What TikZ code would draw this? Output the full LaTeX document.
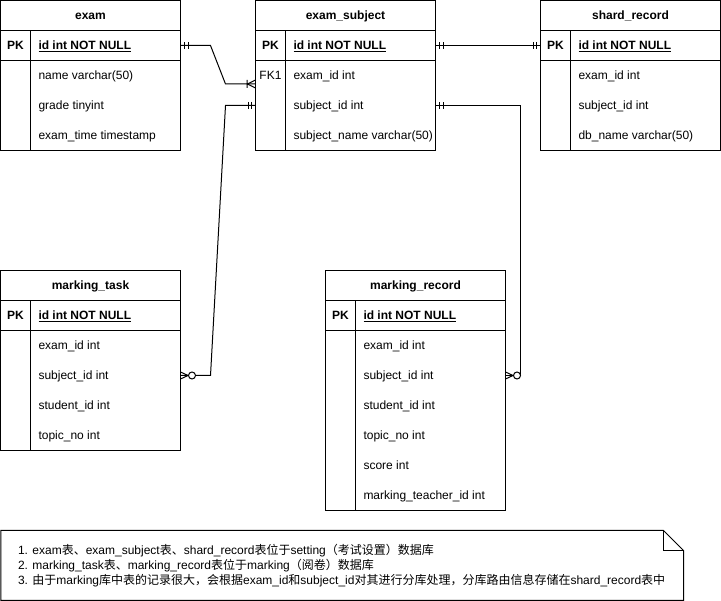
\documentclass[tikz,border=0pt]{standalone}
\usepackage{fontspec}
\setmainfont{Liberation Sans}
\newfontfamily\cjk{Noto Sans CJK SC}
\usetikzlibrary{positioning}
\usetikzlibrary{calc}

\begin{document}
\begin{tikzpicture}[
    x=1pt, y=1pt, line width=1pt, font=\fontsize{12}{14}\selectfont,
    head/.style={rectangle, draw=black, minimum width=180pt, minimum height=30pt, inner sep=0pt, outer sep=0pt, text height=8.5pt, text depth=0pt, font=\fontsize{12}{14}\selectfont\bfseries},
    key/.style={rectangle, minimum width=30pt, minimum height=30pt, inner sep=0pt, outer sep=0pt, text height=8.5pt, text depth=0pt},
    field/.style={rectangle, anchor=west, inner xsep=8pt, inner ysep=0pt, minimum height=30pt, outer sep=0pt, text height=8.5pt, text depth=0pt},
    memo/.style={rectangle, minimum width=682.5pt, minimum height=70pt, inner sep=0pt, outer sep=0pt},
    memotext/.style={align=left, inner sep=0pt, font=\fontsize{12}{15}\selectfont},
    one/.pic={\draw (4,-3.5) -- (4,3.5) (7.5,-3.5) -- (7.5,3.5);},
    onemany/.pic={\draw (0,4) -- (8,0) -- (0,-4) (8.5,-4) -- (8.5,4);},
    zeromany/.pic={\draw (0,3.5) -- (7.5,0) -- (0,-3.5); \draw[fill=white] (11.5,0) circle (3.5);}
]
    \useasboundingbox (-0.5,0.5) rectangle (720.5,-600.5);

    % exam
    \node[head] (E) at (90,-15) {exam};
    \node[key, anchor=north west] (E-k0) at (E.south west) {\textbf{PK}};
    \node[field] (E-f0) at (E-k0.east) {\textbf{\underline{id int NOT NULL}}};
    \node[key] (E-k1) [below=0pt of E-k0] {};
    \node[field] (E-f1) at (E-k1.east) {name varchar(50)};
    \node[key] (E-k2) [below=0pt of E-k1] {};
    \node[field] (E-f2) at (E-k2.east) {grade tinyint};
    \node[key] (E-k3) [below=0pt of E-k2] {};
    \node[field] (E-f3) at (E-k3.east) {exam\_time timestamp};
    \draw (E.south west) rectangle (E.east |- E-k3.south);
    \draw (E-k0.south west) -- (E.east |- E-k0.south);
    \draw (E-k0.north east) -- (E-k3.south east);

    % exam_subject
    \node[head] (ES) [right=75pt of E] {exam\_subject};
    \node[key, anchor=north west] (ES-k0) at (ES.south west) {\textbf{PK}};
    \node[field] (ES-f0) at (ES-k0.east) {\textbf{\underline{id int NOT NULL}}};
    \node[key] (ES-k1) [below=0pt of ES-k0] {FK1};
    \node[field] (ES-f1) at (ES-k1.east) {exam\_id int};
    \node[key] (ES-k2) [below=0pt of ES-k1] {};
    \node[field] (ES-f2) at (ES-k2.east) {subject\_id int};
    \node[key] (ES-k3) [below=0pt of ES-k2] {};
    \node[field] (ES-f3) at (ES-k3.east) {subject\_name varchar(50)};
    \draw (ES.south west) rectangle (ES.east |- ES-k3.south);
    \draw (ES-k0.south west) -- (ES.east |- ES-k0.south);
    \draw (ES-k0.north east) -- (ES-k3.south east);

    % shard_record
    \node[head] (SR) [right=105pt of ES] {shard\_record};
    \node[key, anchor=north west] (SR-k0) at (SR.south west) {\textbf{PK}};
    \node[field] (SR-f0) at (SR-k0.east) {\textbf{\underline{id int NOT NULL}}};
    \node[key] (SR-k1) [below=0pt of SR-k0] {};
    \node[field] (SR-f1) at (SR-k1.east) {exam\_id int};
    \node[key] (SR-k2) [below=0pt of SR-k1] {};
    \node[field] (SR-f2) at (SR-k2.east) {subject\_id int};
    \node[key] (SR-k3) [below=0pt of SR-k2] {};
    \node[field] (SR-f3) at (SR-k3.east) {db\_name varchar(50)};
    \draw (SR.south west) rectangle (SR.east |- SR-k3.south);
    \draw (SR-k0.south west) -- (SR.east |- SR-k0.south);
    \draw (SR-k0.north east) -- (SR-k3.south east);

    % marking_task
    \node[head] (MT) at (90,-285) {marking\_task};
    \node[key, anchor=north west] (MT-k0) at (MT.south west) {\textbf{PK}};
    \node[field] (MT-f0) at (MT-k0.east) {\textbf{\underline{id int NOT NULL}}};
    \node[key] (MT-k1) [below=0pt of MT-k0] {};
    \node[field] (MT-f1) at (MT-k1.east) {exam\_id int};
    \node[key] (MT-k2) [below=0pt of MT-k1] {};
    \node[field] (MT-f2) at (MT-k2.east) {subject\_id int};
    \node[key] (MT-k3) [below=0pt of MT-k2] {};
    \node[field] (MT-f3) at (MT-k3.east) {student\_id int};
    \node[key] (MT-k4) [below=0pt of MT-k3] {};
    \node[field] (MT-f4) at (MT-k4.east) {topic\_no int};
    \draw (MT.south west) rectangle (MT.east |- MT-k4.south);
    \draw (MT-k0.south west) -- (MT.east |- MT-k0.south);
    \draw (MT-k0.north east) -- (MT-k4.south east);

    % marking_record
    \node[head] (MR) [right=145pt of MT] {marking\_record};
    \node[key, anchor=north west] (MR-k0) at (MR.south west) {\textbf{PK}};
    \node[field] (MR-f0) at (MR-k0.east) {\textbf{\underline{id int NOT NULL}}};
    \node[key] (MR-k1) [below=0pt of MR-k0] {};
    \node[field] (MR-f1) at (MR-k1.east) {exam\_id int};
    \node[key] (MR-k2) [below=0pt of MR-k1] {};
    \node[field] (MR-f2) at (MR-k2.east) {subject\_id int};
    \node[key] (MR-k3) [below=0pt of MR-k2] {};
    \node[field] (MR-f3) at (MR-k3.east) {student\_id int};
    \node[key] (MR-k4) [below=0pt of MR-k3] {};
    \node[field] (MR-f4) at (MR-k4.east) {topic\_no int};
    \node[key] (MR-k5) [below=0pt of MR-k4] {};
    \node[field] (MR-f5) at (MR-k5.east) {score int};
    \node[key] (MR-k6) [below=0pt of MR-k5] {};
    \node[field] (MR-f6) at (MR-k6.east) {marking\_teacher\_id int};
    \draw (MR.south west) rectangle (MR.east |- MR-k6.south);
    \draw (MR-k0.south west) -- (MR.east |- MR-k0.south);
    \draw (MR-k0.north east) -- (MR-k6.south east);

    % relations
    \coordinate (fk) at ($(ES-k1.west)+(0,-8.5)$);
    \draw (E.east |- E-k0) -- ++(30,0) -- ($(fk)+(-30,0)$) -- (fk);
    \pic at (E.east |- E-k0) {one};
    \pic[rotate=180] at (fk) {onemany};

    \draw (ES.east |- ES-k0) -- (SR.west |- SR-k0);
    \pic at (ES.east |- ES-k0) {one};
    \pic[rotate=180] at (SR.west |- SR-k0) {one};

    \draw (ES.west |- ES-k2) -- ++(-30,0) -- ($(MT.east |- MT-k2)+(30,0)$) -- (MT.east |- MT-k2);
    \pic[rotate=180] at (ES.west |- ES-k2) {one};
    \pic at (MT.east |- MT-k2) {zeromany};

    \draw (ES.east |- ES-k2) -| ($(MR.east |- MR-k2)+(15,0)$) -- (MR.east |- MR-k2);
    \pic at (ES.east |- ES-k2) {one};
    \pic at (MR.east |- MR-k2) {zeromany};

    % note
    \node[memo, anchor=north west] (N) at (0.5,-530) {};
    \draw (N.north west) -- ($(N.north east)+(-20,0)$) -- ($(N.north east)+(0,-20)$) -- (N.south east) -- (N.south west) -- cycle;
    \draw ($(N.north east)+(-20,0)$) |- ($(N.north east)+(0,-20)$);
    \node[memotext, anchor=west] (NT) at ($(N.west)+(16.5,0)$) {1. exam{\cjk 表、}exam\_subject{\cjk 表、}shard\_record{\cjk 表位于}setting{\cjk （考试设置）数据库}\\
        2. marking\_task{\cjk 表、}marking\_record{\cjk 表位于}marking{\cjk （阅卷）数据库}\\
        3. {\cjk 由于}marking{\cjk 库中表的记录很大，会根据}exam\_id{\cjk 和}subject\_id{\cjk 对其进行分库处理，分库路由信息存储在}shard\_record{\cjk 表中}};

\end{tikzpicture}
\end{document}
